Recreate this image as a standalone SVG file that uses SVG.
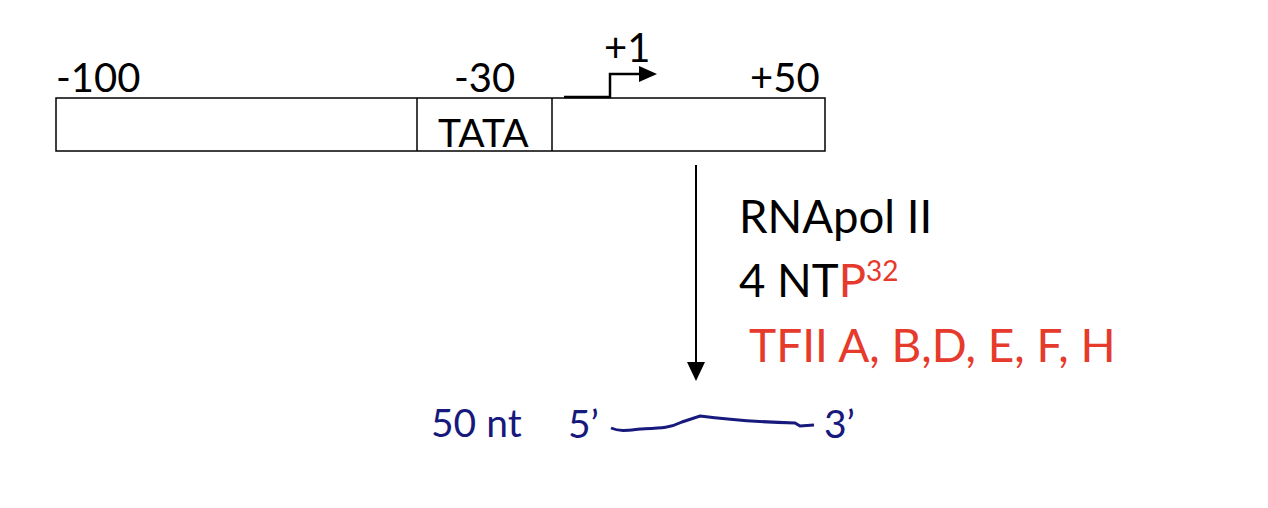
<svg xmlns="http://www.w3.org/2000/svg" width="1268" height="508" viewBox="0 0 1268 508">
<style>
.t{font-family:Lato,"Open Sans","Liberation Sans",sans-serif;}
.k{fill:#000;}
.r{fill:#e53a2c;}
.b{fill:#17197c;}
.box{fill:#fff;stroke:#000;stroke-width:1.5;}
</style>
<rect width="1268" height="508" fill="#fff"/>
<g id="promoter">
<rect class="box" x="56" y="98" width="769" height="53"/>
<line x1="417" y1="98" x2="417" y2="151" stroke="#000" stroke-width="1.5"/>
<line x1="552" y1="98" x2="552" y2="151" stroke="#000" stroke-width="1.5"/>
<text class="t k" x="438" y="147" font-size="39">TATA</text>
<text class="t k" x="56" y="92" font-size="40">-100</text>
<text class="t k" x="454" y="92" font-size="40">-30</text>
<text class="t k" x="750" y="92" font-size="40">+50</text>
<text class="t k" x="604" y="62" font-size="40">+1</text>
</g>
<g id="tss">
<path d="M564,97 L610,97 L610,74 L641,74" fill="none" stroke="#000" stroke-width="2.5"/>
<path d="M639,66 L657,74 L639,82 z" fill="#000"/>
</g>
<g id="connectors">
<line x1="696" y1="165" x2="696" y2="364" stroke="#000" stroke-width="2"/>
<path d="M687,362 L696,381 L705,362 z" fill="#000"/>
</g>
<g id="conditions">
<text class="t k" x="739" y="233" font-size="45.5">RNApol II</text>
<text class="t k" x="739" y="297" font-size="45.5">4 NT<tspan class="r">P</tspan><tspan class="r" font-size="28" dy="-16">32</tspan></text>
<text class="t r" x="749" y="362" font-size="46">TFII A, B,D, E, F, H</text>
</g>
<g id="product">
<text class="t b" x="431" y="437" font-size="39">50 nt</text>
<text class="t b" x="568" y="438" font-size="39">5’</text>
<path d="M611,428 C620,432 630,430 640,429 C660,428 670,428 682,422 L700,416 C730,420 760,422 795,423 L800,426 L814,425" fill="none" stroke="#17197c" stroke-width="3"/>
<text class="t b" x="824" y="438" font-size="39">3’</text>
</g>
</svg>
